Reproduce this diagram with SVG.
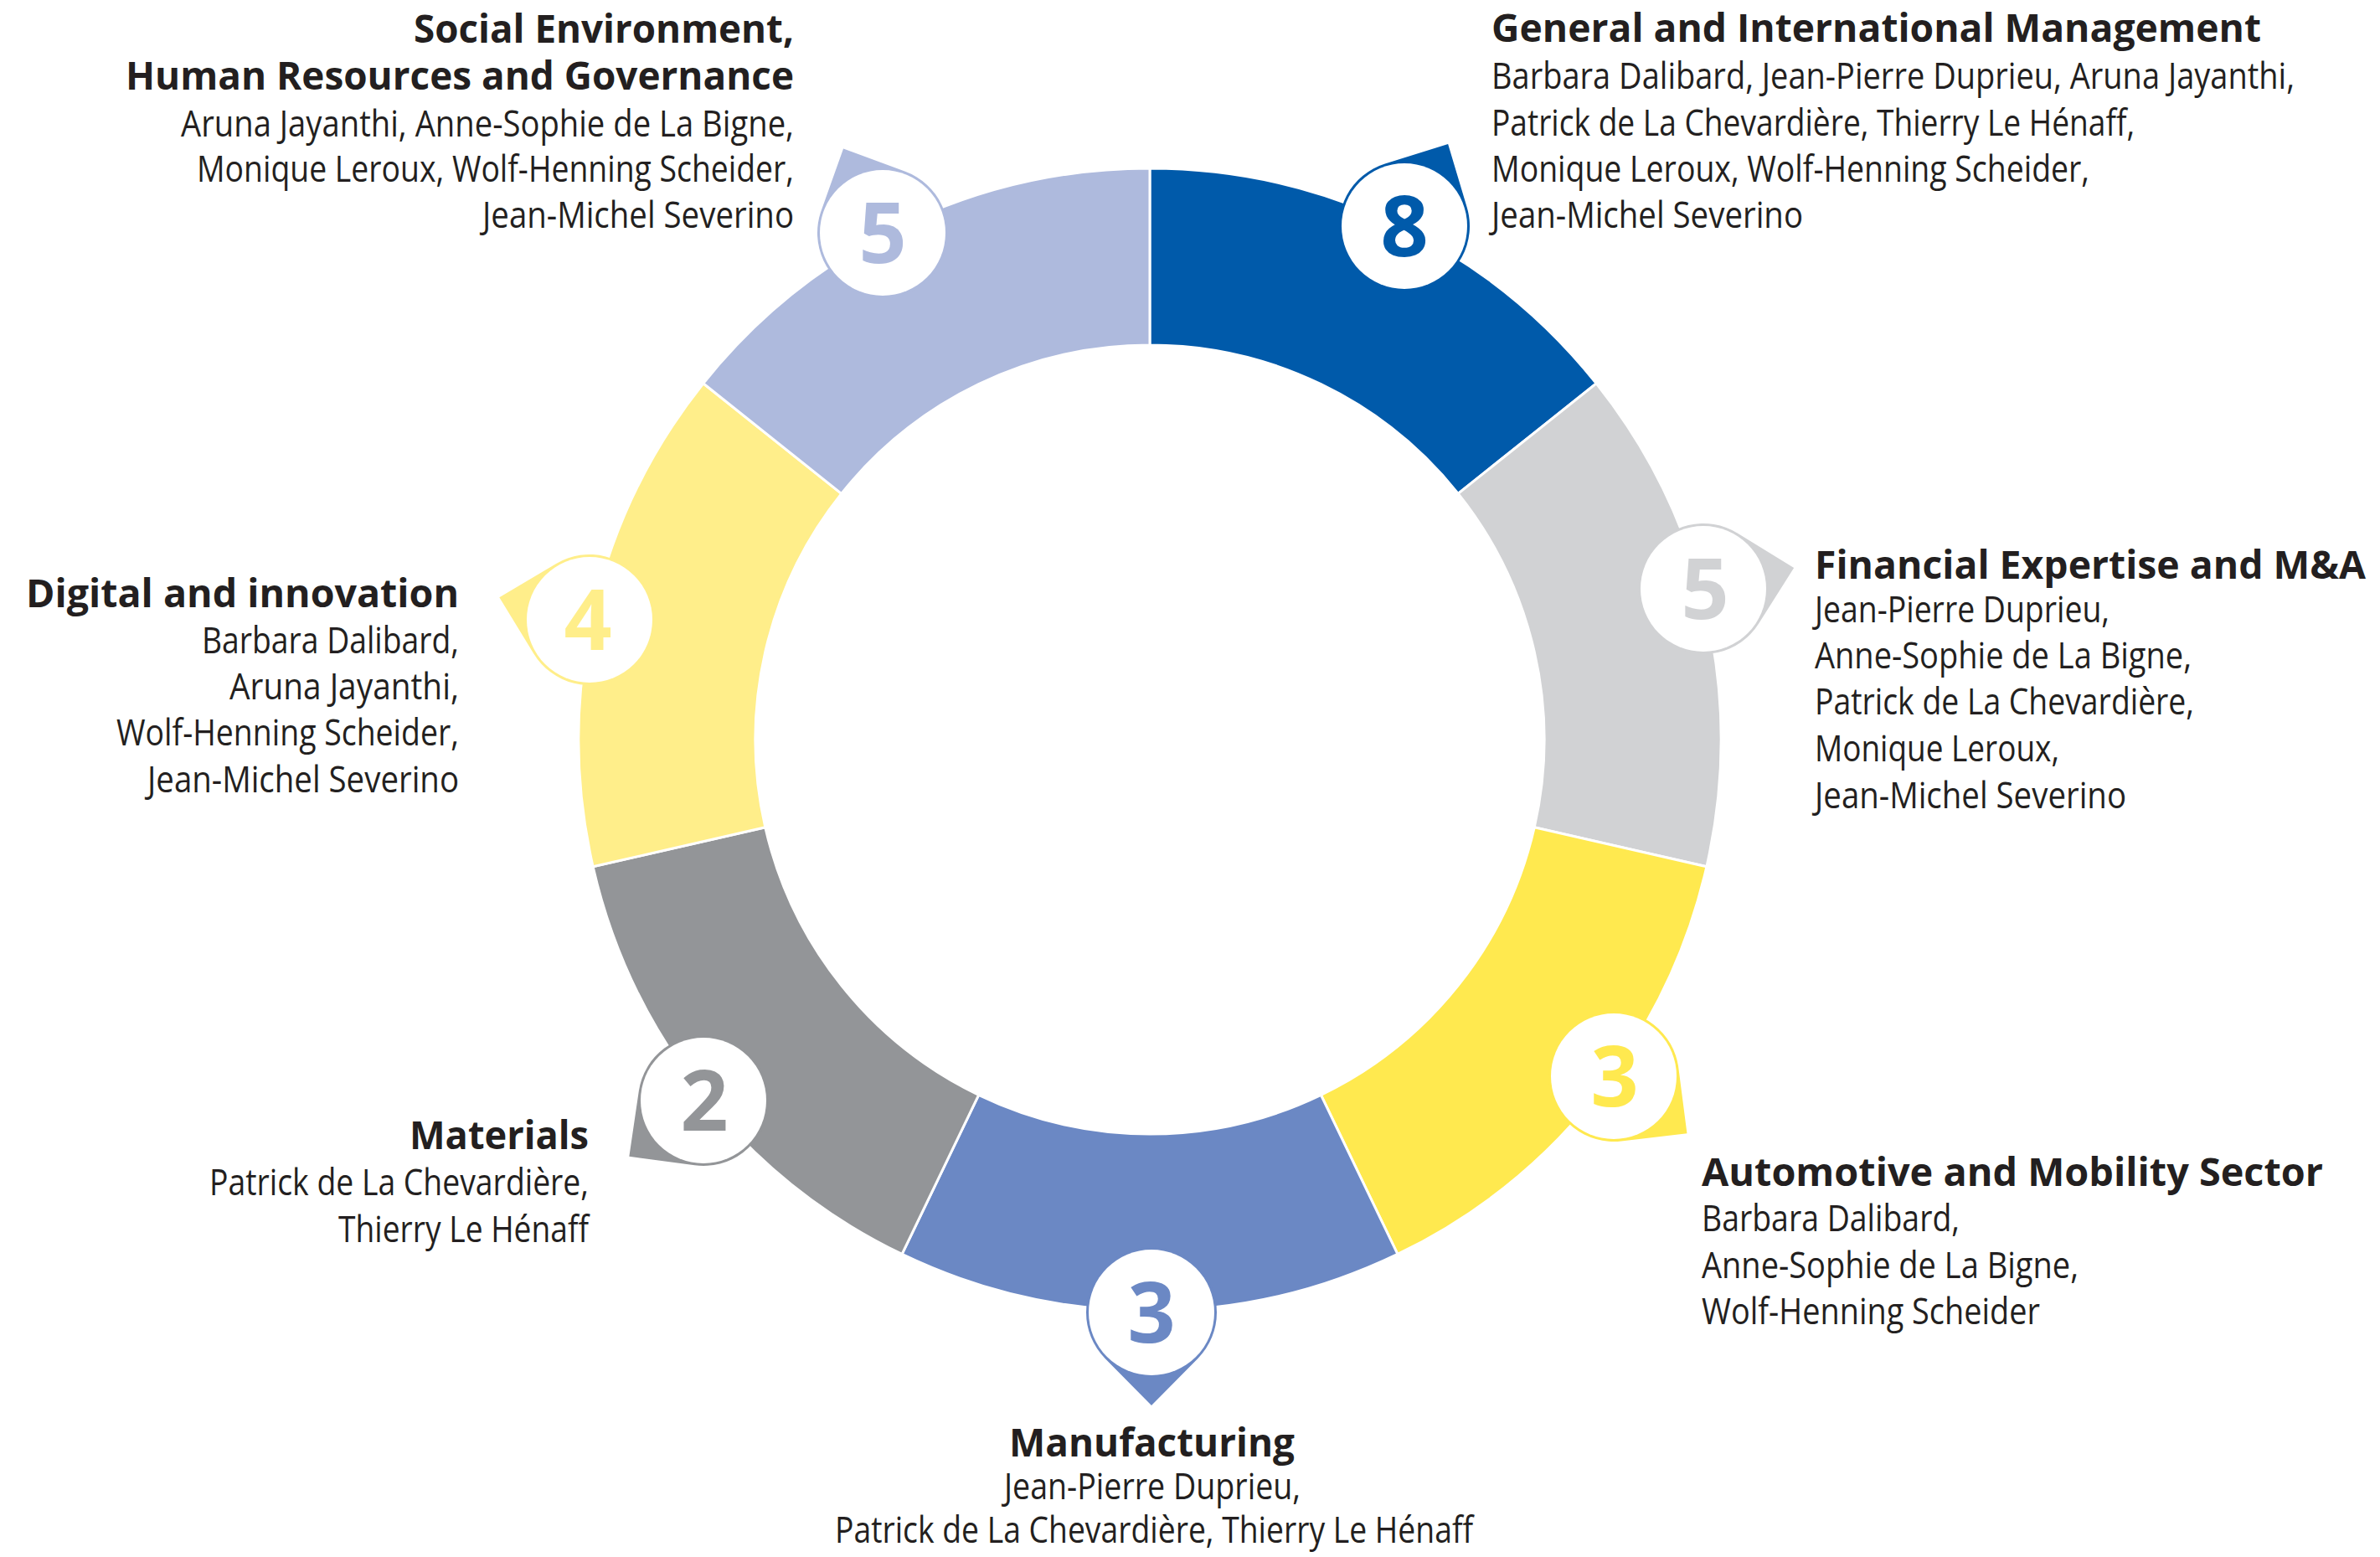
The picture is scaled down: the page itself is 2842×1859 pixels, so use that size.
<svg xmlns="http://www.w3.org/2000/svg" xmlns:xlink="http://www.w3.org/1999/xlink" width="2842" height="1859" viewBox="0 0 2842 1859">
<style>
.h{font-family:"Open Sans","Noto Sans","Liberation Sans",sans-serif;font-weight:700;font-size:46px;fill:#231F20}
.n{font-family:"Open Sans","Noto Sans","Liberation Sans",sans-serif;font-weight:400;font-size:44px;fill:#231F20}
.num{font-family:"Open Sans","Noto Sans","Liberation Sans",sans-serif;font-weight:700;font-size:100px;text-anchor:middle}
.seg{stroke:#fff;stroke-width:3;stroke-linejoin:miter}
.disc{fill:#fff}
</style>
<defs>
<path id="pin" d="M0,-111 L55.4,-54.9 A78,78 0 1 1 -55.4,-54.9 Z"/>
</defs>
<rect width="2842" height="1859" fill="#fff"/>

<g id="general">
<path class="seg" fill="#005AAA" d="M1373,201 A682,682 0 0 1 1906.21,457.78 L1741.24,589.34 A471,471 0 0 0 1373,412 Z"/>
<use xlink:href="#pin" href="#pin" fill="#005AAA" transform="translate(1677,270) rotate(28)"/>
<circle class="disc" cx="1677" cy="270" r="75"/>
<text class="num" x="1677" y="306" fill="#005AAA">8</text>
<text class="h" x="1781" y="50" textLength="919" lengthAdjust="spacingAndGlyphs">General and International Management</text>
<text class="n" x="1781" y="106" textLength="959" lengthAdjust="spacingAndGlyphs">Barbara Dalibard, Jean-Pierre Duprieu, Aruna Jayanthi,</text>
<text class="n" x="1781" y="162" textLength="768" lengthAdjust="spacingAndGlyphs">Patrick de La Chevardière, Thierry Le Hénaff,</text>
<text class="n" x="1781" y="217" textLength="714" lengthAdjust="spacingAndGlyphs">Monique Leroux, Wolf-Henning Scheider,</text>
<text class="n" x="1781" y="272" textLength="372" lengthAdjust="spacingAndGlyphs">Jean-Michel Severino</text>
</g>

<g id="financial">
<path class="seg" fill="#D1D2D4" d="M1906.21,457.78 A682,682 0 0 1 2037.90,1034.76 L1832.19,987.81 A471,471 0 0 0 1741.24,589.34 Z"/>
<use xlink:href="#pin" href="#pin" fill="#D1D2D4" transform="translate(2034,703) rotate(77)"/>
<circle class="disc" cx="2034" cy="703" r="75"/>
<text class="num" x="2036" y="739" fill="#D1D2D4">5</text>
<text class="h" x="2167" y="691" textLength="658" lengthAdjust="spacingAndGlyphs">Financial Expertise and M&amp;A</text>
<text class="n" x="2167" y="743" textLength="352" lengthAdjust="spacingAndGlyphs">Jean-Pierre Duprieu,</text>
<text class="n" x="2167" y="798" textLength="450" lengthAdjust="spacingAndGlyphs">Anne-Sophie de La Bigne,</text>
<text class="n" x="2167" y="853" textLength="453" lengthAdjust="spacingAndGlyphs">Patrick de La Chevardière,</text>
<text class="n" x="2167" y="909" textLength="292" lengthAdjust="spacingAndGlyphs">Monique Leroux,</text>
<text class="n" x="2167" y="965" textLength="372" lengthAdjust="spacingAndGlyphs">Jean-Michel Severino</text>
</g>

<g id="automotive">
<path class="seg" fill="#FFE94F" d="M2037.90,1034.76 A682,682 0 0 1 1668.91,1497.46 L1577.36,1307.36 A471,471 0 0 0 1832.19,987.81 Z"/>
<use xlink:href="#pin" href="#pin" fill="#FFE94F" transform="translate(1927,1285) rotate(128)"/>
<circle class="disc" cx="1927" cy="1285" r="75"/>
<text class="num" x="1928" y="1321" fill="#FFE94F">3</text>
<text class="h" x="2032" y="1416" textLength="742" lengthAdjust="spacingAndGlyphs">Automotive and Mobility Sector</text>
<text class="n" x="2032" y="1470" textLength="308" lengthAdjust="spacingAndGlyphs">Barbara Dalibard,</text>
<text class="n" x="2032" y="1526" textLength="450" lengthAdjust="spacingAndGlyphs">Anne-Sophie de La Bigne,</text>
<text class="n" x="2032" y="1581" textLength="404" lengthAdjust="spacingAndGlyphs">Wolf-Henning Scheider</text>
</g>

<g id="manufacturing">
<path class="seg" fill="#6B88C4" d="M1668.91,1497.46 A682,682 0 0 1 1077.09,1497.46 L1168.64,1307.36 A471,471 0 0 0 1577.36,1307.36 Z"/>
<use xlink:href="#pin" href="#pin" fill="#6B88C4" transform="translate(1375,1567) rotate(180)"/>
<circle class="disc" cx="1375" cy="1567" r="75"/>
<text class="num" x="1375" y="1603" fill="#6B88C4">3</text>
<text class="h" x="1205" y="1739" textLength="341" lengthAdjust="spacingAndGlyphs">Manufacturing</text>
<text class="n" x="1199" y="1790" textLength="354" lengthAdjust="spacingAndGlyphs">Jean-Pierre Duprieu,</text>
<text class="n" x="997" y="1842" textLength="762" lengthAdjust="spacingAndGlyphs">Patrick de La Chevardière, Thierry Le Hénaff</text>
</g>

<g id="materials">
<path class="seg" fill="#939598" d="M1077.09,1497.46 A682,682 0 0 1 708.10,1034.76 L913.81,987.81 A471,471 0 0 0 1168.64,1307.36 Z"/>
<use xlink:href="#pin" href="#pin" fill="#939598" transform="translate(840,1314) rotate(233)"/>
<circle class="disc" cx="840" cy="1314" r="75"/>
<text class="num" x="841" y="1350" fill="#939598">2</text>
<text class="h" x="489" y="1372" textLength="214" lengthAdjust="spacingAndGlyphs">Materials</text>
<text class="n" x="250" y="1427" textLength="453" lengthAdjust="spacingAndGlyphs">Patrick de La Chevardière,</text>
<text class="n" x="404" y="1483" textLength="299" lengthAdjust="spacingAndGlyphs">Thierry Le Hénaff</text>
</g>

<g id="digital">
<path class="seg" fill="#FFEE8A" d="M708.10,1034.76 A682,682 0 0 1 839.79,457.78 L1004.76,589.34 A471,471 0 0 0 913.81,987.81 Z"/>
<use xlink:href="#pin" href="#pin" fill="#FFEE8A" transform="translate(704,740) rotate(284)"/>
<circle class="disc" cx="704" cy="740" r="75"/>
<text class="num" x="702" y="776" fill="#FFEE8A">4</text>
<text class="h" x="31" y="725" textLength="517" lengthAdjust="spacingAndGlyphs">Digital and innovation</text>
<text class="n" x="241" y="780" textLength="307" lengthAdjust="spacingAndGlyphs">Barbara Dalibard,</text>
<text class="n" x="274" y="835" textLength="274" lengthAdjust="spacingAndGlyphs">Aruna Jayanthi,</text>
<text class="n" x="139" y="890" textLength="409" lengthAdjust="spacingAndGlyphs">Wolf-Henning Scheider,</text>
<text class="n" x="176" y="946" textLength="372" lengthAdjust="spacingAndGlyphs">Jean-Michel Severino</text>
</g>

<g id="social">
<path class="seg" fill="#AEBADD" d="M839.79,457.78 A682,682 0 0 1 1373,201 L1373,412 A471,471 0 0 0 1004.76,589.34 Z"/>
<use xlink:href="#pin" href="#pin" fill="#AEBADD" transform="translate(1054,278) rotate(335)"/>
<circle class="disc" cx="1054" cy="278" r="75"/>
<text class="num" x="1054" y="314" fill="#AEBADD">5</text>
<text class="h" x="494" y="51" textLength="454" lengthAdjust="spacingAndGlyphs">Social Environment,</text>
<text class="h" x="150" y="107" textLength="798" lengthAdjust="spacingAndGlyphs">Human Resources and Governance</text>
<text class="n" x="216" y="163" textLength="732" lengthAdjust="spacingAndGlyphs">Aruna Jayanthi, Anne-Sophie de La Bigne,</text>
<text class="n" x="235" y="217" textLength="713" lengthAdjust="spacingAndGlyphs">Monique Leroux, Wolf-Henning Scheider,</text>
<text class="n" x="576" y="272" textLength="372" lengthAdjust="spacingAndGlyphs">Jean-Michel Severino</text>
</g>

<g id="connectors"/>
</svg>
